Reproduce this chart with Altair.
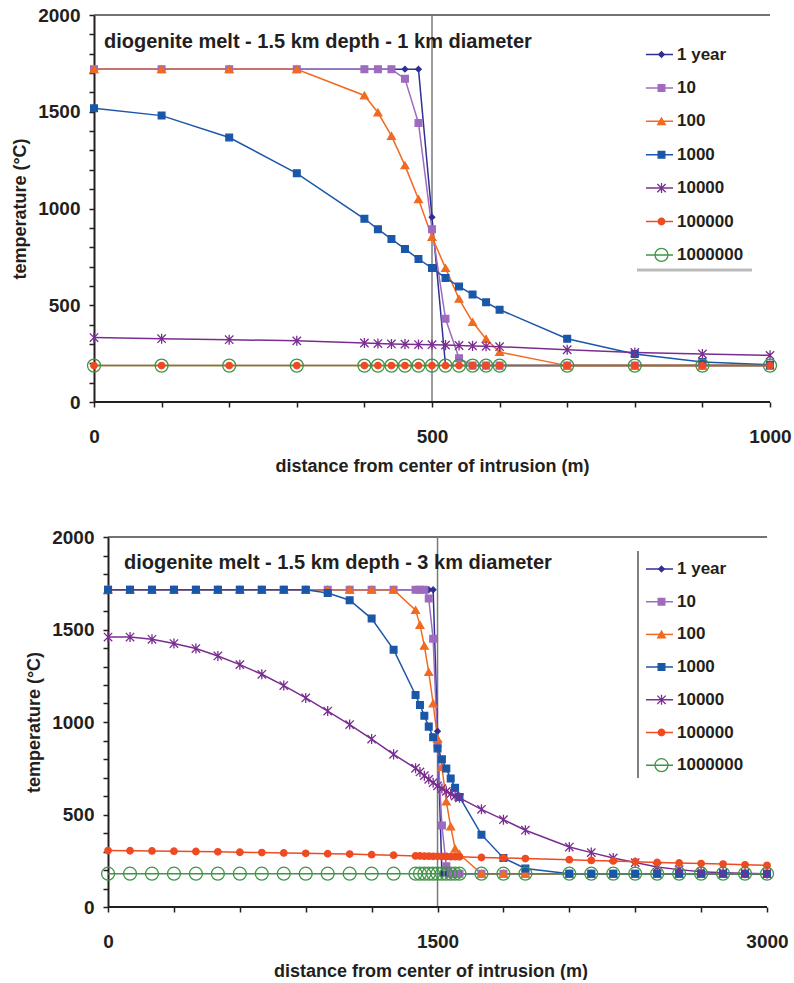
import altair as alt
import pandas as pd

FONT = "Liberation Sans"
INK = "#231F20"

SERIES = ["1 year", "10", "100", "1000", "10000", "100000", "1000000"]
COLORS = ["#2E3192", "#9E6BBF", "#F26A21", "#1B57A8", "#7A2D91", "#EE4B23", "#3F9447"]
FILLS = ["#2E3192", "#9E6BBF", "#F26A21", "#1B57A8", "#7A2D91", "#EE4B23", "transparent"]
SHAPES = ["diamond", "square", "triangle-up", "square",
          "M-1,-1L1,1M-1,1L1,-1M0,-1.2L0,1.2", "circle", "circle"]
SIZES = [30, 45, 60, 45, 70, 42, 169]

# ---------------- top panel: 1 km diameter ----------------
TOP_TITLE = "diogenite melt - 1.5 km depth - 1 km diameter"
TOP_X = [0, 100, 200, 300, 400, 420, 440, 460, 480, 500, 520, 540, 560, 580, 600, 700, 800, 900, 1000]
TOP_1Y = [1720, 1720, 1720, 1720, 1720, 1720, 1720, 1720, 1720, 955, 188, 188, 188, 188, 188, 188, 188, 188, 188]
TOP_10 = [1720, 1720, 1720, 1720, 1720, 1720, 1720, 1670, 1442, 893, 430, 226, 188, 188, 188, 188, 188, 188, 188]
TOP_100 = [1720, 1720, 1720, 1720, 1584, 1496, 1375, 1223, 1048, 853, 692, 533, 413, 326, 258, 188, 188, 188, 188]
TOP_1000 = [1518, 1480, 1367, 1182, 947, 893, 842, 791, 739, 692, 641, 597, 555, 515, 477, 327, 248, 207, 193]
TOP_10000 = [333, 327, 322, 316, 305, 302, 300, 299, 297, 296, 294, 292, 290, 288, 286, 270, 256, 248, 241]
TOP_1E5 = [188, 188, 188, 188, 188, 188, 188, 188, 188, 188, 188, 188, 188, 188, 188, 188, 188, 188, 188]
TOP_1E6 = [188, 188, 188, 188, 188, 188, 188, 188, 188, 188, 188, 188, 188, 188, 188, 188, 188, 188, 188]
TOP_XTICKS = [0, 100, 200, 300, 400, 500, 600, 700, 800, 900, 1000]
TOP_EDGE = [500]

# ---------------- bottom panel: 3 km diameter ----------------
BOT_TITLE = "diogenite melt - 1.5 km depth - 3 km diameter"
BOT_X = [0, 100, 200, 300, 400, 500, 600, 700, 800, 900, 1000, 1100, 1200, 1300,
         1400, 1420, 1440, 1460, 1480, 1500, 1520, 1540, 1560, 1580, 1600,
         1700, 1800, 1900, 2100, 2200, 2300, 2400, 2500, 2600, 2700, 2800, 2900, 3000]
BOT_1Y = [1715, 1715, 1715, 1715, 1715, 1715, 1715, 1715, 1715, 1715, 1715, 1715, 1715, 1715,
          1715, 1715, 1715, 1715, 1715, 950, 180, 180, 180, 180, 180,
          180, 180, 180, 180, 180, 180, 180, 180, 180, 180, 180, 180, 180]
BOT_10 = [1715, 1715, 1715, 1715, 1715, 1715, 1715, 1715, 1715, 1715, 1715, 1715, 1715, 1715,
          1715, 1715, 1715, 1667, 1450, 880, 440, 220, 180, 180, 180,
          180, 180, 180, 180, 180, 180, 180, 180, 180, 180, 180, 180, 180]
BOT_100 = [1715, 1715, 1715, 1715, 1715, 1715, 1715, 1715, 1715, 1715, 1715, 1715, 1715, 1715,
           1605, 1525, 1412, 1270, 1100, 910, 757, 570, 435, 315, 285,
           180, 180, 180, 180, 180, 180, 180, 180, 180, 180, 180, 180, 180]
BOT_1000 = [1715, 1715, 1715, 1715, 1715, 1715, 1715, 1715, 1715, 1715, 1697, 1658, 1559, 1391,
            1146, 1092, 1034, 975, 917, 857, 798, 748, 694, 645, 595,
            391, 265, 208, 180, 180, 180, 180, 180, 180, 180, 180, 180, 180]
BOT_10000 = [1459, 1459, 1447, 1424, 1397, 1357, 1310, 1258, 1197, 1130, 1059, 986, 908, 825,
             750, 730, 710, 690, 672, 655, 640, 625, 612, 600, 590,
             528, 472, 415, 324, 294, 265, 240, 216, 202, 190, 185, 182, 180]
BOT_1E5 = [305, 304, 303, 302, 300, 298, 296, 294, 292, 290, 288, 286, 283, 280,
           276, 276, 275, 275, 274, 274, 273, 273, 272, 272, 271,
           268, 265, 262, 256, 252, 249, 245, 241, 238, 235, 232, 228, 225]
BOT_1E6 = [180, 180, 180, 180, 180, 180, 180, 180, 180, 180, 180, 180, 180, 180,
           180, 180, 180, 180, 180, 180, 180, 180, 180, 180, 180,
           180, 180, 180, 180, 180, 180, 180, 180, 180, 180, 180, 180, 180]
BOT_XTICKS = [0, 300, 600, 900, 1200, 1500, 1800, 2100, 2400, 2700, 3000]
BOT_EDGE = [1500]

Y_TICKS = [0, 100, 200, 300, 400, 500, 600, 700, 800, 900, 1000, 1100, 1200, 1300,
           1400, 1500, 1600, 1700, 1800, 1900, 2000]


def common_axis(values, label_every, label_pad, title_pad, title, offset, domain):
    return alt.Axis(
        values=values, format="d", title=title, offset=offset,
        labelExpr=f"datum.value % {label_every} == 0 ? datum.label : ''",
        grid=False, tickSize=5, tickWidth=1.5, tickColor=INK,
        domain=domain, domainColor=INK, domainWidth=2,
        labelFont=FONT, labelFontSize=19, labelFontWeight="bold", labelColor=INK,
        labelPadding=label_pad, labelFlush=False, labelOverlap=False,
        titleFont=FONT, titleFontSize=18, titleFontWeight="bold", titleColor=INK,
        titlePadding=title_pad,
    )


def panel(xs, temps, xticks, label_every, xdomain, edge, title, w, h, shift,
          lx, ly, rowpad, top_ext, bottom_ext, decor):
    rows = []
    for name, vals in zip(SERIES, temps):
        for x, t in zip(xs, vals):
            rows.append({"x": x, "t": t, "series": name, "curve": name})
    df = pd.DataFrame(rows)
    x0, x1 = xs[0], xs[-1]

    xax = common_axis(xticks, label_every, 20, 11,
                      "distance from center of intrusion (m)", 0, False)
    yax = common_axis(Y_TICKS, 500, 9, 8, "temperature (°C)", -shift, True)
    xscale = alt.Scale(domain=xdomain, nice=False, zero=False)
    yscale = alt.Scale(domain=[0, 2000], nice=False)
    xenc = alt.X("x:Q", scale=xscale, axis=xax)
    yenc = alt.Y("t:Q", scale=yscale, axis=yax)

    line_legend = alt.Legend(
        orient="none", legendX=lx - 9, legendY=ly, title=None,
        symbolType="stroke", symbolSize=729, symbolStrokeWidth=1.5,
        labelExpr="''", labelFontSize=17, labelFont=FONT, clipHeight=27,
        rowPadding=rowpad, padding=0)
    mark_legend = alt.Legend(
        orient="none", legendX=lx - 1, legendY=ly, title=None,
        labelFont=FONT, labelFontSize=17, labelFontWeight="bold", labelColor=INK,
        labelOffset=7, clipHeight=27, rowPadding=rowpad, padding=0,
        symbolStrokeWidth=1.3, symbolOpacity=1)

    base = alt.Chart(df)
    frame_df = pd.DataFrame({"x": [x0], "x2": [x1], "bottom": [0], "top": [2000]})
    baseline = alt.Chart(frame_df).mark_rule(color=INK, strokeWidth=2).encode(
        x=xenc, x2="x2:Q", y=alt.Y("bottom:Q", scale=yscale, axis=yax))
    top_border = alt.Chart(frame_df).mark_rule(color="#444444", strokeWidth=1.5).encode(
        x=xenc, x2="x2:Q", y=alt.Y("top:Q", scale=yscale, axis=yax))

    lines = base.mark_line(strokeWidth=1.5).encode(
        x=xenc, y=yenc,
        color=alt.Color("curve:N", scale=alt.Scale(range=COLORS), legend=line_legend),
    )
    points = base.mark_point(filled=True, opacity=1, strokeWidth=1.3).encode(
        x=xenc, y=yenc,
        shape=alt.Shape("series:N", scale=alt.Scale(domain=SERIES, range=SHAPES), legend=mark_legend),
        fill=alt.Fill("series:N", scale=alt.Scale(domain=SERIES, range=FILLS), legend=mark_legend),
        stroke=alt.Stroke("series:N", scale=alt.Scale(domain=SERIES, range=COLORS), legend=mark_legend),
        size=alt.Size("series:N", scale=alt.Scale(type="ordinal", domain=SERIES, range=SIZES), legend=mark_legend),
    )
    edge_rule = alt.Chart(pd.DataFrame({"x": edge})).mark_rule(
        color="#7A7A7A", strokeWidth=1.5).encode(x=xenc)
    label = alt.Chart(pd.DataFrame({"s": [title]})).mark_text(
        align="left", baseline="middle", font=FONT, fontSize=20,
        fontWeight="bold", color=INK).encode(
        text="s:N", x=alt.value(decor["tx"]), y=alt.value(decor["ty"]))
    bounds = alt.Chart(pd.DataFrame({"s": [0]})).mark_rule(opacity=0).encode(
        x=alt.value(-94), x2=alt.value(-94),
        y=alt.value(-top_ext), y2=alt.value(bottom_ext))
    deco = alt.Chart(pd.DataFrame({"s": [0]})).mark_rule(
        color=decor["color"], strokeWidth=decor["width"]).encode(
        x=alt.value(decor["x1"]), x2=alt.value(decor["x2"]),
        y=alt.value(decor["y1"]), y2=alt.value(decor["y2"]))

    return alt.layer(bounds, top_border, edge_rule, deco, lines, points, baseline, label).resolve_scale(
        color="independent", shape="independent", fill="independent",
        stroke="independent", size="independent"
    ).properties(width=w, height=h)


top = panel(TOP_X, [TOP_1Y, TOP_10, TOP_100, TOP_1000, TOP_10000, TOP_1E5, TOP_1E6],
            TOP_XTICKS, 500, [0, 1000], TOP_EDGE, TOP_TITLE, 676, 387, 0,
            560, 26, 6.4, 15, 467,
            {"tx": 10, "ty": 27, "color": "#BBBBBB", "width": 3,
             "x1": 543, "x2": 658, "y1": 255, "y2": 255})
bottom = panel(BOT_X, [BOT_1Y, BOT_10, BOT_100, BOT_1000, BOT_10000, BOT_1E5, BOT_1E6],
               BOT_XTICKS, 1500, [-64, 3000], BOT_EDGE, BOT_TITLE, 673, 370, 14,
               560, 18.5, 5.7, 30, 440,
               {"tx": 30, "ty": 26, "color": "#555555", "width": 1.5,
                "x1": 544, "x2": 544, "y1": 14, "y2": 241})

chart = alt.vconcat(top, bottom, spacing=25).resolve_scale(
    x="independent", y="independent", color="independent", shape="independent",
    fill="independent", stroke="independent", size="independent"
).resolve_legend(
    color="independent", shape="independent", fill="independent",
    stroke="independent", size="independent"
).properties(padding=0, background="white").configure_view(
    stroke=None
).configure_axis(labelOverlap=False)

chart.save("out.html", embed_options={"renderer": "svg", "actions": False})
